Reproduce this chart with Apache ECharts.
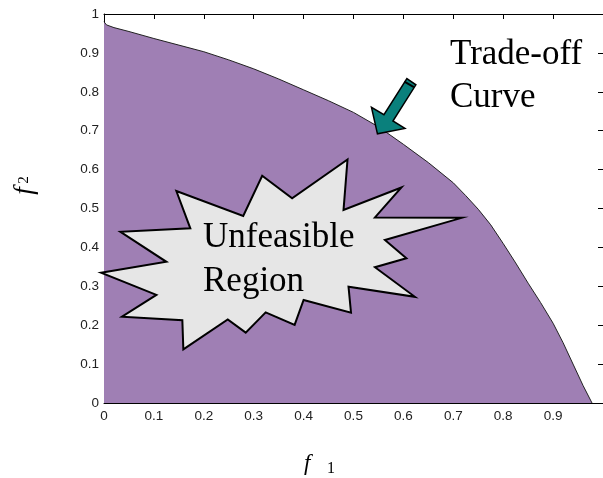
<!DOCTYPE html>
<html><head><meta charset="utf-8">
<script src="https://cdn.jsdelivr.net/npm/echarts@6/dist/echarts.min.js"></script>
<style>html,body{margin:0;padding:0;background:#fff}#c{width:603px;height:478px}</style>
</head><body><div id="c"></div>
<script>
// Trade-off curve (f1, f2)
const curveF1 = [0, 0.005, 0.02, 0.05, 0.1, 0.15, 0.2, 0.25, 0.3, 0.35, 0.4, 0.45, 0.5, 0.55, 0.6, 0.65, 0.7, 0.725, 0.75, 0.775, 0.8, 0.825, 0.85, 0.875, 0.9, 0.92, 0.94, 0.96, 0.978];
const curveF2 = [0.98, 0.972, 0.965, 0.955, 0.937, 0.92, 0.903, 0.882, 0.859, 0.833, 0.805, 0.777, 0.747, 0.71, 0.665, 0.618, 0.566, 0.533, 0.498, 0.458, 0.41, 0.36, 0.308, 0.258, 0.205, 0.155, 0.1, 0.045, 0];
// Star ("Unfeasible Region") outline, in data units
const starF1 = [-0.006, 0.125, 0.033, 0.173, 0.145, 0.279, 0.317, 0.377, 0.488, 0.480, 0.596, 0.543, 0.717, 0.563, 0.606, 0.543, 0.623, 0.490, 0.495, 0.400, 0.382, 0.324, 0.284, 0.248, 0.159, 0.157, 0.036, 0.105];
const starF2 = [0.335, 0.363, 0.440, 0.449, 0.545, 0.481, 0.584, 0.526, 0.626, 0.496, 0.554, 0.477, 0.476, 0.419, 0.372, 0.349, 0.273, 0.299, 0.232, 0.265, 0.201, 0.233, 0.181, 0.215, 0.138, 0.213, 0.222, 0.278];
// Arrow pointing to curve, in data units
const arrowF1 = [0.607, 0.625, 0.579, 0.603, 0.548, 0.536, 0.561];
const arrowF2 = [0.834, 0.818, 0.725, 0.706, 0.692, 0.760, 0.741];
const stripeF1 = [0.602, 0.621];
const stripeF2 = [0.826, 0.812];
const tickMin = 0, tickMax = 1, tickStep = 0.1;

const chart = echarts.init(document.getElementById('c'), null, {renderer: 'canvas'});
const curveData = curveF1.map((x, i) => [x, curveF2[i]]);

function polySeries(xs, ys, fill, stroke, lw, z) {
  return {
    type: 'custom', coordinateSystem: 'cartesian2d', xAxisIndex: 0, yAxisIndex: 0,
    data: [[xs[0], ys[0]]], z: z, silent: true, clip: false,
    renderItem: function (params, api) {
      return {type: 'polygon', shape: {points: xs.map((x, i) => api.coord([x, ys[i]]))},
        style: {fill: fill, stroke: stroke, lineWidth: lw, lineJoin: 'miter'}};
    }
  };
}
function lineSeries(xs, ys, stroke, lw, z) {
  return {
    type: 'custom', coordinateSystem: 'cartesian2d', xAxisIndex: 0, yAxisIndex: 0,
    data: [[xs[0], ys[0]]], z: z, silent: true, clip: false,
    renderItem: function (params, api) {
      return {type: 'polyline', shape: {points: xs.map((x, i) => api.coord([x, ys[i]]))},
        style: {fill: null, stroke: stroke, lineWidth: lw}};
    }
  };
}

const axisCommon = {
  type: 'value', min: tickMin, max: tickMax, interval: tickStep,
  axisLine: {show: true, onZero: false, lineStyle: {color: '#000', width: 1}},
  axisTick: {show: true, inside: true, length: 5, lineStyle: {color: '#000', width: 1}},
  splitLine: {show: false}
};
const labelStyle = {color: '#222', fontSize: 13.5, fontFamily: 'Liberation Sans, Arial, sans-serif'};
const serif = '"Liberation Serif", "Times New Roman", serif';

const option = {
  animation: false,
  backgroundColor: '#fff',
  grid: {left: 104, top: 14, width: 502, height: 389},
  xAxis: [
    Object.assign({}, axisCommon, {position: 'bottom', axisLabel: Object.assign({margin: 6, showMaxLabel: false}, labelStyle)}),
    Object.assign({}, axisCommon, {position: 'top', axisLabel: {show: false}})
  ],
  yAxis: [
    Object.assign({}, axisCommon, {position: 'left', axisLabel: Object.assign({margin: 5}, labelStyle),
      name: '{f|f}{g| }{s|2}', nameLocation: 'middle', nameRotate: 90, nameGap: 66,
      nameTextStyle: {padding: [0, 0, 0, 46], rich: {
        f: {fontStyle: 'italic', fontSize: 27, fontFamily: serif, color: '#000'},
        g: {fontSize: 14, fontFamily: serif},
        s: {fontSize: 15, fontFamily: serif, color: '#000'}
      }}}),
    Object.assign({}, axisCommon, {position: 'right', axisLabel: {show: false}})
  ],
  series: [
    {type: 'line', data: curveData, xAxisIndex: 0, yAxisIndex: 0, symbol: 'none', smooth: false,
     lineStyle: {color: '#222', width: 1}, areaStyle: {color: '#9f7fb4', opacity: 1}, z: 2, silent: true},
    polySeries(starF1, starF2, '#e6e6e6', '#000', 2, 5),
    polySeries(arrowF1, arrowF2, '#0a807c', '#000', 1.5, 6),
    lineSeries(stripeF1, stripeF2, '#000', 2, 7)
  ],
  graphic: [
    {type: 'text', x: 203, y: 238.2, z: 10, style: {text: 'Unfeasible', font: '35px ' + serif, fill: '#000', align: 'left', verticalAlign: 'middle'}},
    {type: 'text', x: 203, y: 281.5, z: 10, style: {text: 'Region', font: '35px ' + serif, fill: '#000', align: 'left', verticalAlign: 'middle'}},
    {type: 'text', x: 450, y: 54.9, z: 10, style: {text: 'Trade-off', font: '35px ' + serif, fill: '#000', align: 'left', verticalAlign: 'middle'}},
    {type: 'text', x: 450, y: 98.2, z: 10, style: {text: 'Curve', font: '35px ' + serif, fill: '#000', align: 'left', verticalAlign: 'middle'}},
    {type: 'text', x: 304, y: 464, z: 10, style: {text: 'f', font: 'italic 23px ' + serif, fill: '#000', align: 'left', verticalAlign: 'middle'}},
    {type: 'text', x: 327, y: 468.5, z: 10, style: {text: '1', font: '16px ' + serif, fill: '#000', align: 'left', verticalAlign: 'middle'}}
  ]
};
chart.setOption(option);
</script>
</body></html>
